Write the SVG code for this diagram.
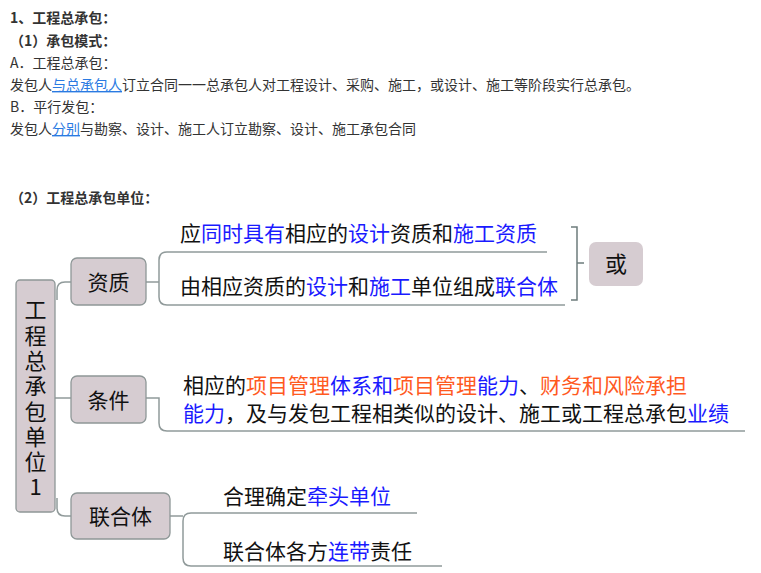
<svg xmlns="http://www.w3.org/2000/svg" width="761" height="573" viewBox="0 0 761 573">
<style>
.t{font-family:"Noto Sans CJK SC","Noto Sans",sans-serif;font-size:14px;fill:#333}
.b{font-weight:bold}
.lk{fill:#2a7ae2;text-decoration:underline}
.m{font-family:"Noto Sans CJK SC","Noto Sans",sans-serif;font-size:21px;fill:#111}
.bl{fill:#1a1aff}
.or{fill:#ff5a1f}
.node{fill:#d6ccd1;stroke:#8e9797;stroke-width:1.3}
.lbl{font-family:"Noto Sans CJK SC","Noto Sans",sans-serif;font-size:21px;fill:#111;text-anchor:middle}
.vt{font-family:"Noto Sans CJK SC","Noto Sans",sans-serif;font-size:22px;fill:#111;writing-mode:vertical-rl;text-orientation:upright;letter-spacing:3.3px}
.c{fill:none;stroke:#909a9a;stroke-width:1.5}
</style>
<rect width="761" height="573" fill="#fff"/>
<g id="intro">
<text class="t b" x="10" y="23">1、工程总承包：</text>
<text class="t b" x="10" y="46">（1）承包模式：</text>
<text class="t" x="10" y="68">A．工程总承包：</text>
<text class="t" x="10" y="90">发包人<tspan class="lk">与总承包人</tspan>订立合同一一总承包人对工程设计、采购、施工，或设计、施工等阶段实行总承包。</text>
<text class="t" x="10" y="112">B．平行发包：</text>
<text class="t" x="10" y="134">发包人<tspan class="lk">分别</tspan>与勘察、设计、施工人订立勘察、设计、施工承包合同</text>
<text class="t b" x="10" y="203">（2）工程总承包单位：</text>
</g>
<g id="connectors">
<path class="c" d="M57,300 V290 Q57,282 65,282 H71"/>
<path class="c" d="M55,398 H71"/>
<path class="c" d="M57,498 V508 Q57,516 65,516 H71"/>
<path class="c" d="M146,282 H159"/>
<path class="c" d="M167,252 H547 M167,252 Q159,252 159,260 V297 Q159,305 167,305 H565"/>
<path class="c" d="M146,398 H159 V423 Q159,431 167,431 H745"/>
<path class="c" d="M170,516 H183"/>
<path class="c" d="M191,513 H417 M191,513 Q183,513 183,521 V558 Q183,566 191,566 H442"/>
<path fill="none" stroke="#6e7c7c" stroke-width="1.5" d="M571,227 H577 V300 H571 M577,263 H584"/>
</g>
<g id="root">
<rect class="node" x="16" y="280" width="39" height="232" rx="4"/>
<text class="vt" x="35.5" y="299">工程总承包单位1</text>
</g>
<g id="n-zizhi">
<rect class="node" x="71" y="258" width="75" height="47" rx="6"/>
<text class="lbl" x="108.5" y="290">资质</text>
</g>
<g id="n-tiaojian">
<rect class="node" x="71" y="376" width="75" height="47" rx="6"/>
<text class="lbl" x="108.5" y="408">条件</text>
</g>
<g id="n-lianheti">
<rect class="node" x="71" y="493" width="99" height="46" rx="6"/>
<text class="lbl" x="120.5" y="524">联合体</text>
</g>
<g id="n-huo">
<rect x="589" y="242" width="54" height="44" rx="7" fill="#d6ccd1"/>
<text class="lbl" style="font-size:22px" x="616" y="272">或</text>
</g>
<g id="t-zizhi-1"><text class="m" x="180" y="241">应<tspan class="bl">同时具有</tspan>相应的<tspan class="bl">设计</tspan>资质和<tspan class="bl">施工资质</tspan></text></g>
<g id="t-zizhi-2"><text class="m" x="180" y="294">由相应资质的<tspan class="bl">设计</tspan>和<tspan class="bl">施工</tspan>单位组成<tspan class="bl">联合体</tspan></text></g>
<g id="t-tiaojian">
<text class="m" x="183" y="393">相应的<tspan class="or">项目管理</tspan><tspan class="bl">体系和</tspan><tspan class="or">项目管理</tspan><tspan class="bl">能力</tspan>、<tspan class="or">财务和风险承担</tspan></text>
<text class="m" x="183" y="421"><tspan class="bl">能力</tspan>，及与发包工程相类似的设计、施工或工程总承包<tspan class="bl">业绩</tspan></text>
</g>
<g id="t-lianheti-1"><text class="m" x="223" y="504">合理确定<tspan class="bl">牵头单位</tspan></text></g>
<g id="t-lianheti-2"><text class="m" x="223" y="559">联合体各方<tspan class="bl">连带</tspan>责任</text></g>
</svg>
